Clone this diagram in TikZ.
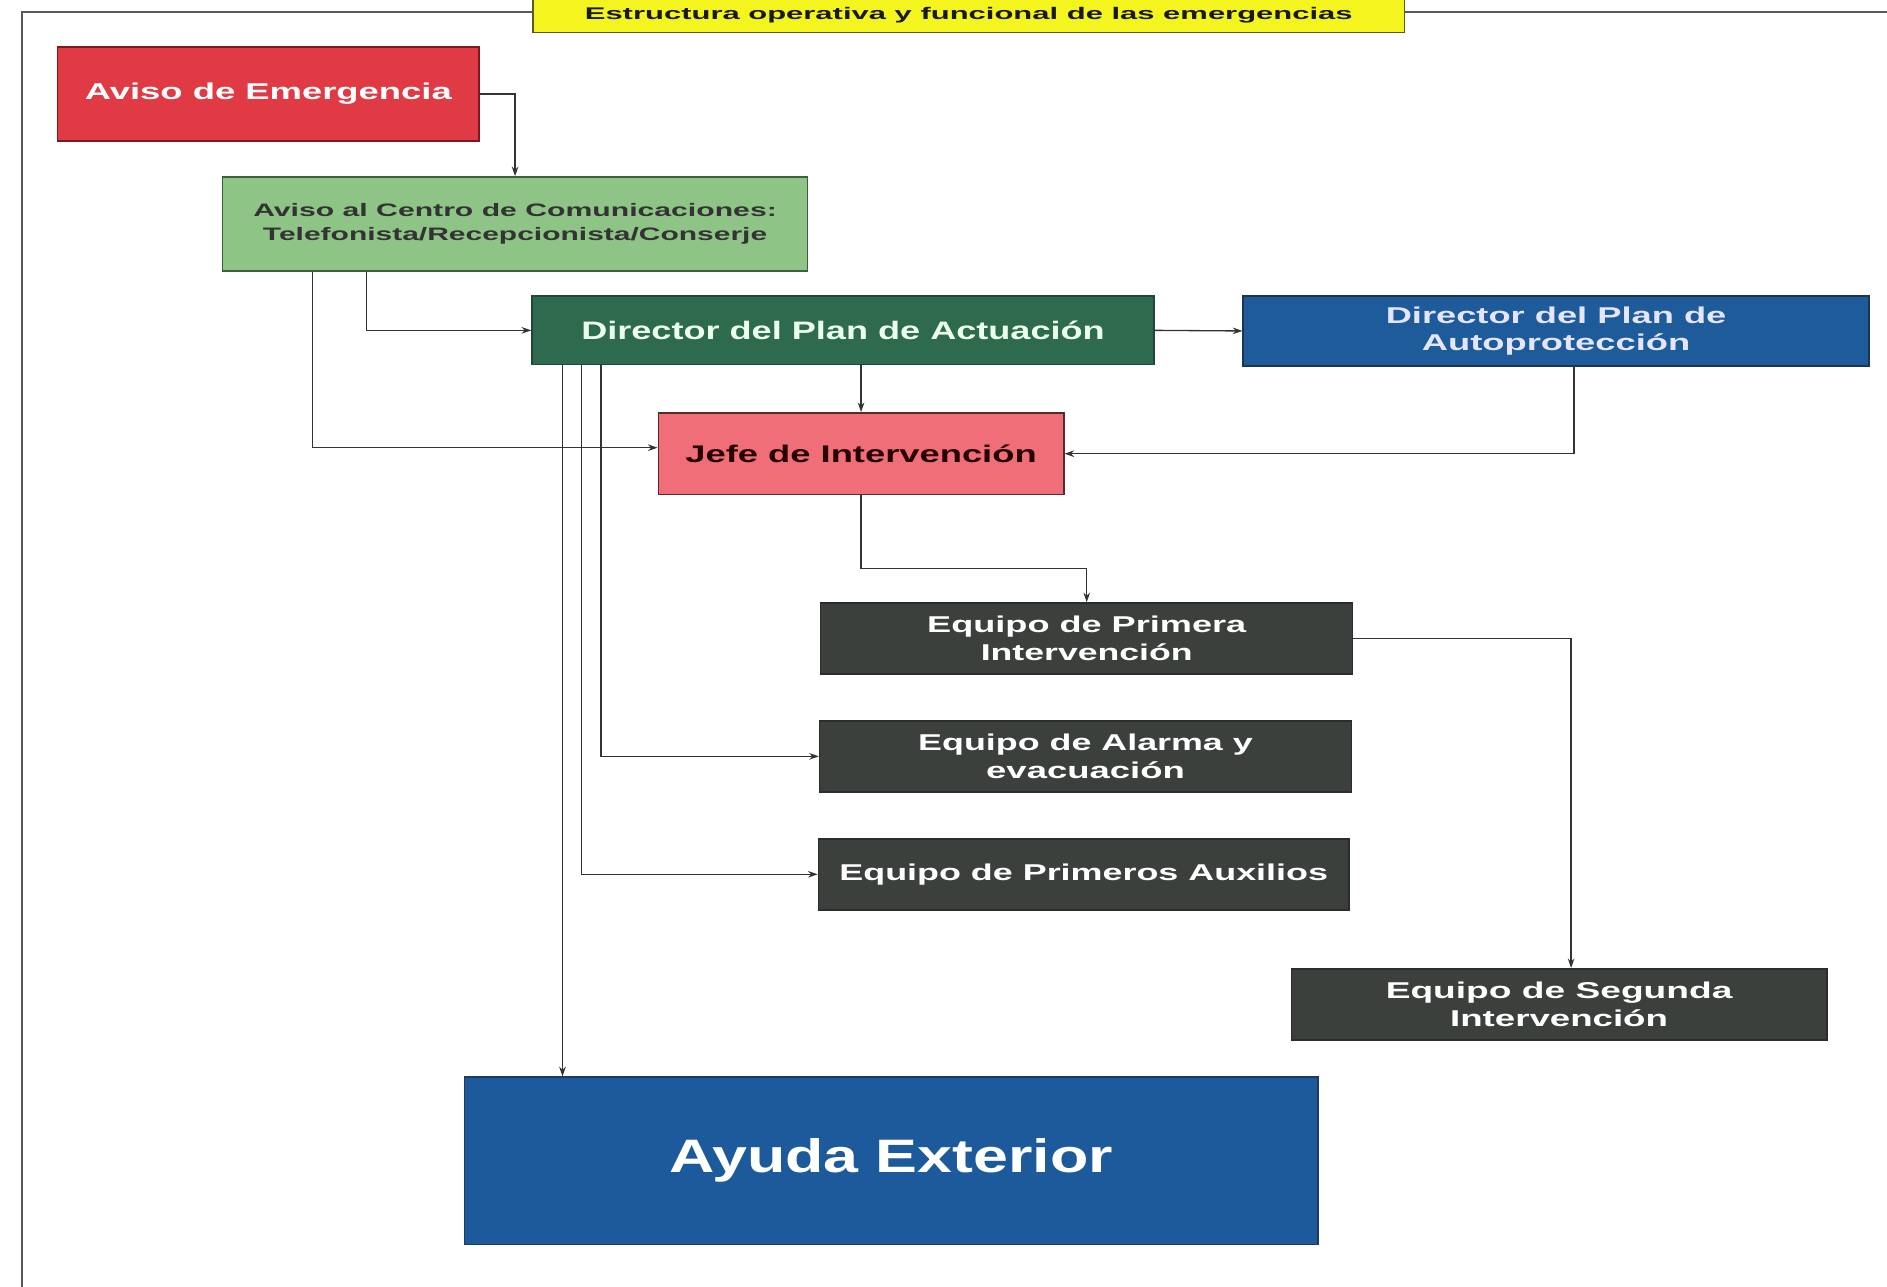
\documentclass[tikz,border=0pt]{standalone}
\usepackage{fontspec}
\setmainfont{Liberation Sans}
\usetikzlibrary{arrows.meta}
\newcommand\hw[2]{\resizebox{#1pt}{\height}{#2}}
\definecolor{cRed}{HTML}{E03A44}
\definecolor{cRedB}{HTML}{7A1A20}
\definecolor{cGreen}{HTML}{8FC487}
\definecolor{cGreenB}{HTML}{3E5E3E}
\definecolor{cDpa}{HTML}{2E6A4E}
\definecolor{cDpaB}{HTML}{24453A}
\definecolor{cBlue}{HTML}{1E5B9B}
\definecolor{cBlueB}{HTML}{1D3550}
\definecolor{cPink}{HTML}{EF6E78}
\definecolor{cPinkB}{HTML}{5A2A2A}
\definecolor{cDark}{HTML}{3B403D}
\definecolor{cDarkB}{HTML}{2A2D2B}
\definecolor{cAyuda}{HTML}{1C5A9C}
\definecolor{cAyudaB}{HTML}{1F3A5A}
\definecolor{cYellow}{HTML}{F4F51E}
\definecolor{cYellowB}{HTML}{5A5A20}
\definecolor{cLine}{HTML}{333333}
\tikzset{
  box/.style={rectangle, inner sep=0pt, line width=1.2pt, align=center, font=\bfseries},
  redbox/.style={box, fill=cRed, draw=cRedB, text=white},
  greenbox/.style={box, fill=cGreen, draw=cGreenB, text={black!80}},
  dpabox/.style={box, fill=cDpa, draw=cDpaB, text={white!92!green}},
  bluebox/.style={box, fill=cBlue, draw=cBlueB, text={white!90!blue}},
  pinkbox/.style={box, fill=cPink, draw=cPinkB, text={black!85!red}},
  darkbox/.style={box, fill=cDark, draw=cDarkB, text=white},
  ayudabox/.style={box, fill=cAyuda, draw=cAyudaB, text=white},
  conn/.style={draw=cLine, line width=1.1pt, -{Stealth[length=8pt,width=5.5pt]}},
  frameline/.style={draw=black!65, line width=1.6pt}
}
\begin{document}
\begin{tikzpicture}[x=1pt,y=-1pt]
\useasboundingbox (0,0) rectangle (1568,1069);
\clip (0,0) rectangle (1568,1069);
% frame
\draw[frameline] (18,1069) -- (18,10) -- (443,10);
\draw[frameline] (1167,10) -- (1568,10);
% title
\node[box, fill=cYellow, draw=cYellowB, minimum width=724pt, minimum height=47pt] (title) at (805,3.5) {};
\node[anchor=base, font=\bfseries\fontsize{14}{17}\selectfont, text=black!90] (titletext) at (805,16) {\hw{638}{Estructura operativa y funcional de las emergencias}};
% boxes
\node[redbox, minimum width=350pt, minimum height=78pt, font=\bfseries\fontsize{19}{23}\selectfont] (aviso) at (223,78) {\hw{305}{Aviso de Emergencia}};
\node[greenbox, minimum width=486pt, minimum height=78pt, font=\bfseries\fontsize{15}{20}\selectfont] (centro) at (428,186) {\hw{435}{Aviso al Centro de Comunicaciones:}\\\hw{419}{Telefonista/Recepcionista/Conserje}};
\node[dpabox, minimum width=517pt, minimum height=57pt, font=\bfseries\fontsize{21}{25}\selectfont] (dpa) at (700.5,274.5) {\hw{435}{Director del Plan de Actuación}};
\node[bluebox, minimum width=520pt, minimum height=58pt, font=\bfseries\fontsize{19}{23}\selectfont] (dpap) at (1293,275) {\hw{283}{Director del Plan de}\\\hw{223}{Autoprotección}};
\node[pinkbox, minimum width=337pt, minimum height=68pt, font=\bfseries\fontsize{20}{24}\selectfont] (jefe) at (715.5,377) {\hw{292}{Jefe de Intervención}};
\node[darkbox, minimum width=442pt, minimum height=59pt, font=\bfseries\fontsize{19}{23}\selectfont] (epi) at (903,530.5) {\hw{265}{Equipo de Primera}\\\hw{176}{Intervención}};
\node[darkbox, minimum width=442pt, minimum height=59pt, font=\bfseries\fontsize{19}{23}\selectfont] (eae) at (902,628.5) {\hw{278}{Equipo de Alarma y}\\\hw{165}{evacuación}};
\node[darkbox, minimum width=441pt, minimum height=59pt, font=\bfseries\fontsize{19}{23}\selectfont] (epa) at (900.5,726.5) {\hw{406}{Equipo de Primeros Auxilios}};
\node[darkbox, minimum width=445pt, minimum height=59pt, font=\bfseries\fontsize{19}{23}\selectfont] (esi) at (1295.5,834.5) {\hw{288}{Equipo de Segunda}\\\hw{181}{Intervención}};
\node[ayudabox, minimum width=709pt, minimum height=139pt, font=\bfseries\fontsize{39}{46}\selectfont] (ayuda) at (740.5,964.5) {\hw{369}{Ayuda Exterior}};
% connectors
\draw[conn] (aviso.east) -| (centro.north);
\draw[conn] ([xshift=120pt]centro.south west) |- (dpa.west);
\draw[conn] ([xshift=75pt]centro.south west) |- ([yshift=5pt]jefe.west);
\draw[conn] (dpa.east) -- (dpap.west);
\draw[conn] (jefe.north |- dpa.south) -- (jefe.north);
\draw[conn] ([xshift=15pt]dpap.south) |- (jefe.east);
\draw[conn] (jefe.south) -- ++(0,61) -| (epi.north);
\draw[conn] ([xshift=58pt]dpa.south west) |- (eae.west);
\draw[conn] ([xshift=42pt]dpa.south west) |- (epa.west);
\draw[conn] ([xshift=26pt]dpa.south west) -- ([xshift=82pt]ayuda.north west);
\draw[conn] (epi.east) -| ([xshift=10pt]esi.north);
\end{tikzpicture}
\end{document}
